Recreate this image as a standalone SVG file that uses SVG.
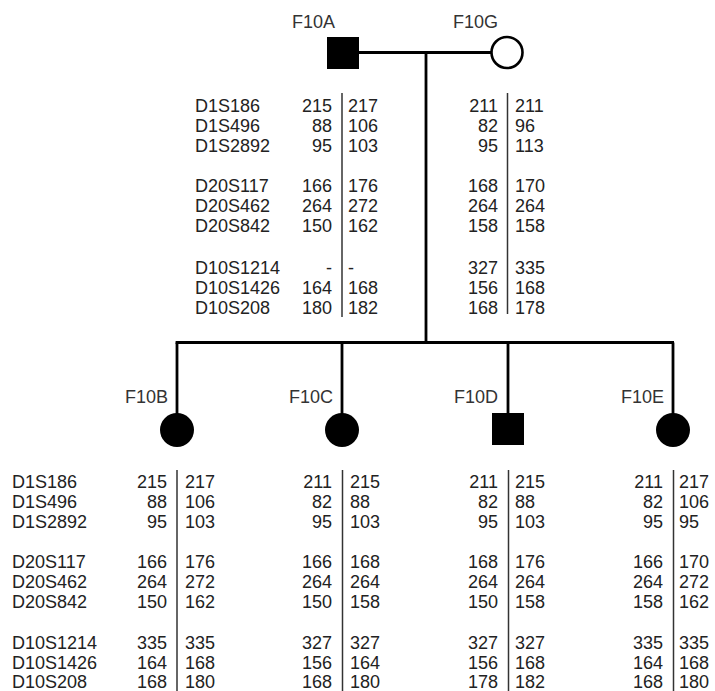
<svg xmlns="http://www.w3.org/2000/svg" width="715" height="691" viewBox="0 0 715 691">
<style>
text{font-family:"Liberation Sans",Arial,sans-serif;font-size:18px;fill:#222}
.lbl{fill:#333;text-anchor:end}
.l{text-anchor:end}
.ped{stroke:#000;stroke-width:2.8;fill:none}
.div{stroke:#333;stroke-width:1.5}
.aff{fill:#000}
.un{fill:#fff;stroke:#000;stroke-width:2.6}
</style>
<rect width="715" height="691" fill="#fff"/>
<g id="connectors">
<line class="ped" x1="358" y1="52.5" x2="491" y2="52.5"/>
<line class="ped" x1="426" y1="52.5" x2="426" y2="342.5"/>
<line class="ped" x1="175.6" y1="342.5" x2="674" y2="342.5"/>
<line class="ped" x1="177" y1="342.5" x2="177" y2="414"/>
<line class="ped" x1="342" y1="342.5" x2="342" y2="414"/>
<line class="ped" x1="508" y1="342.5" x2="508" y2="414"/>
<line class="ped" x1="673" y1="342.5" x2="673" y2="414"/>
</g>
<g id="F10A">
<text class="lbl" x="335" y="28">F10A</text>
<rect class="aff" x="327" y="37" width="32" height="32"/>
<line class="div" x1="342" y1="93" x2="342" y2="317"/>
<g>
<text x="195" y="112">D1S186</text><text x="195" y="132">D1S496</text><text x="195" y="152">D1S2892</text>
<text x="195" y="192">D20S117</text><text x="195" y="212">D20S462</text><text x="195" y="232">D20S842</text>
<text x="195" y="274">D10S1214</text><text x="195" y="294">D10S1426</text><text x="195" y="314">D10S208</text>
</g>
<g>
<text class="l" x="332" y="112">215</text><text class="l" x="332" y="132">88</text><text class="l" x="332" y="152">95</text>
<text class="l" x="332" y="192">166</text><text class="l" x="332" y="212">264</text><text class="l" x="332" y="232">150</text>
<text class="l" x="332" y="274">-</text><text class="l" x="332" y="294">164</text><text class="l" x="332" y="314">180</text>
</g>
<g>
<text x="348" y="112">217</text><text x="348" y="132">106</text><text x="348" y="152">103</text>
<text x="348" y="192">176</text><text x="348" y="212">272</text><text x="348" y="232">162</text>
<text x="348" y="274">-</text><text x="348" y="294">168</text><text x="348" y="314">182</text>
</g>
</g>
<g id="F10G">
<text class="lbl" x="498" y="28">F10G</text>
<circle class="un" cx="507" cy="52.5" r="15.5"/>
<line class="div" x1="507.5" y1="93" x2="507.5" y2="314"/>
<g>
<text class="l" x="498" y="112">211</text><text class="l" x="498" y="132">82</text><text class="l" x="498" y="152">95</text>
<text class="l" x="498" y="192">168</text><text class="l" x="498" y="212">264</text><text class="l" x="498" y="232">158</text>
<text class="l" x="498" y="274">327</text><text class="l" x="498" y="294">156</text><text class="l" x="498" y="314">168</text>
</g>
<g>
<text x="515" y="112">211</text><text x="515" y="132">96</text><text x="515" y="152">113</text>
<text x="515" y="192">170</text><text x="515" y="212">264</text><text x="515" y="232">158</text>
<text x="515" y="274">335</text><text x="515" y="294">168</text><text x="515" y="314">178</text>
</g>
</g>
<g id="F10B">
<text class="lbl" x="168" y="403">F10B</text>
<circle class="aff" cx="177" cy="430" r="17"/>
<line class="div" x1="177" y1="470" x2="177" y2="691"/>
<g>
<text x="12" y="488">D1S186</text><text x="12" y="508">D1S496</text><text x="12" y="528">D1S2892</text>
<text x="12" y="568">D20S117</text><text x="12" y="588">D20S462</text><text x="12" y="608">D20S842</text>
<text x="12" y="649">D10S1214</text><text x="12" y="669">D10S1426</text><text x="12" y="688">D10S208</text>
</g>
<g>
<text class="l" x="167" y="488">215</text><text class="l" x="167" y="508">88</text><text class="l" x="167" y="528">95</text>
<text class="l" x="167" y="568">166</text><text class="l" x="167" y="588">264</text><text class="l" x="167" y="608">150</text>
<text class="l" x="167" y="649">335</text><text class="l" x="167" y="669">164</text><text class="l" x="167" y="688">168</text>
</g>
<g>
<text x="185" y="488">217</text><text x="185" y="508">106</text><text x="185" y="528">103</text>
<text x="185" y="568">176</text><text x="185" y="588">272</text><text x="185" y="608">162</text>
<text x="185" y="649">335</text><text x="185" y="669">168</text><text x="185" y="688">180</text>
</g>
</g>
<g id="F10C">
<text class="lbl" x="333" y="403">F10C</text>
<circle class="aff" cx="342" cy="430" r="17"/>
<line class="div" x1="342.5" y1="470" x2="342.5" y2="691"/>
<g>
<text class="l" x="332" y="488">211</text><text class="l" x="332" y="508">82</text><text class="l" x="332" y="528">95</text>
<text class="l" x="332" y="568">166</text><text class="l" x="332" y="588">264</text><text class="l" x="332" y="608">150</text>
<text class="l" x="332" y="649">327</text><text class="l" x="332" y="669">156</text><text class="l" x="332" y="688">168</text>
</g>
<g>
<text x="350" y="488">215</text><text x="350" y="508">88</text><text x="350" y="528">103</text>
<text x="350" y="568">168</text><text x="350" y="588">264</text><text x="350" y="608">158</text>
<text x="350" y="649">327</text><text x="350" y="669">164</text><text x="350" y="688">180</text>
</g>
</g>
<g id="F10D">
<text class="lbl" x="498" y="403">F10D</text>
<rect class="aff" x="492" y="413" width="32" height="32"/>
<line class="div" x1="508.5" y1="470" x2="508.5" y2="691"/>
<g>
<text class="l" x="498" y="488">211</text><text class="l" x="498" y="508">82</text><text class="l" x="498" y="528">95</text>
<text class="l" x="498" y="568">168</text><text class="l" x="498" y="588">264</text><text class="l" x="498" y="608">150</text>
<text class="l" x="498" y="649">327</text><text class="l" x="498" y="669">156</text><text class="l" x="498" y="688">178</text>
</g>
<g>
<text x="515" y="488">215</text><text x="515" y="508">88</text><text x="515" y="528">103</text>
<text x="515" y="568">176</text><text x="515" y="588">264</text><text x="515" y="608">158</text>
<text x="515" y="649">327</text><text x="515" y="669">168</text><text x="515" y="688">182</text>
</g>
</g>
<g id="F10E">
<text class="lbl" x="664" y="403">F10E</text>
<circle class="aff" cx="673" cy="430" r="17"/>
<line class="div" x1="673.5" y1="470" x2="673.5" y2="691"/>
<g>
<text class="l" x="663" y="488">211</text><text class="l" x="663" y="508">82</text><text class="l" x="663" y="528">95</text>
<text class="l" x="663" y="568">166</text><text class="l" x="663" y="588">264</text><text class="l" x="663" y="608">158</text>
<text class="l" x="663" y="649">335</text><text class="l" x="663" y="669">164</text><text class="l" x="663" y="688">168</text>
</g>
<g>
<text x="679" y="488">217</text><text x="679" y="508">106</text><text x="679" y="528">95</text>
<text x="679" y="568">170</text><text x="679" y="588">272</text><text x="679" y="608">162</text>
<text x="679" y="649">335</text><text x="679" y="669">168</text><text x="679" y="688">180</text>
</g>
</g>
</svg>
